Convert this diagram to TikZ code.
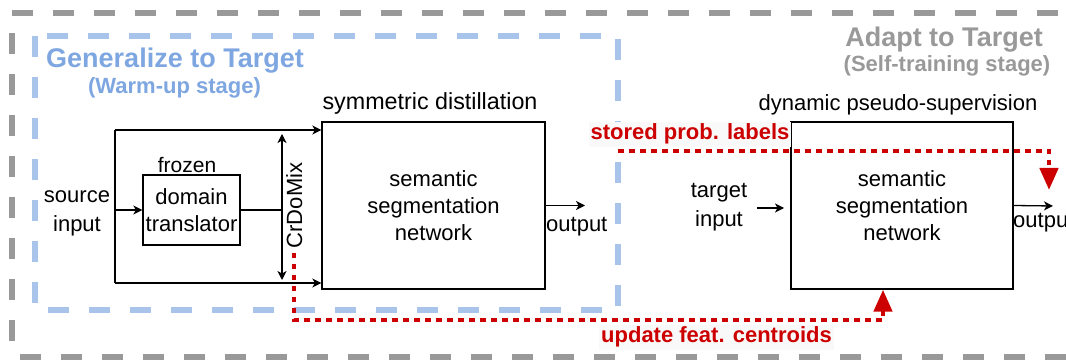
\documentclass[tikz,border=0pt]{standalone}
\usepackage{fontspec}
\setmainfont{Liberation Sans}
\usetikzlibrary{arrows.meta}
\definecolor{WarmClr}{rgb}{0.663,0.769,0.922}
\definecolor{WarmTxt}{rgb}{0.494,0.651,0.878}
\definecolor{SelfClr}{rgb}{0.6,0.6,0.6}
\definecolor{LinkClr}{rgb}{0.8,0,0}
\definecolor{TagClr}{rgb}{0.975,0.975,0.975}

\begin{document}
\begin{tikzpicture}[x=1pt,y=-1pt,
  lbl/.style={font=\fontsize{22}{27}\selectfont,align=center},
  txt/.style={lbl,inner sep=0pt,anchor=base},
  head/.style={font=\fontsize{27}{32}\selectfont\bfseries,inner sep=0pt,anchor=base},
  sub/.style={font=\fontsize{22}{26}\selectfont\bfseries,inner sep=0pt,anchor=base},
  box/.style={draw,line width=1.3pt,inner sep=0pt},
  wire/.style={line width=1.3pt},
  arr/.style={wire,-{Stealth[length=9pt,width=9pt,inset=2.5pt]}},
  arr2/.style={wire,{Stealth[length=9pt,width=9pt,inset=2.5pt]}-{Stealth[length=9pt,width=9pt,inset=2.5pt]}},
  frame/.style={line width=6pt,dash pattern=on 21pt off 20pt},
  link/.style={LinkClr,line width=4.5pt,dash pattern=on 5.5pt off 5.5pt},
  tip/.style={-{Triangle[length=22pt,width=18pt]}},
  tag/.style={font=\fontsize{22}{26}\selectfont\bfseries,text=LinkClr,fill=TagClr,inner sep=2pt,anchor=base}
]
\clip (0,0) rectangle (1066,363);

% stage frames
\draw[frame,SelfClr] (12,13) -- (1066,13);
\draw[frame,SelfClr] (12,33) -- (12,358);
\draw[frame,SelfClr] (20,357) -- (1066,357);
\draw[frame,WarmClr] (35,36) rectangle (618,310);

\node[head,text=WarmTxt] (warm) at (175,68) {Generalize to Target};
\node[sub,text=WarmTxt] (warmsub) at (174.5,94) {(Warm-up stage)};
\node[head,text=SelfClr] (self) at (944,47) {Adapt to Target};
\node[sub,text=SelfClr] (selfsub) at (947,72) {(Self-training stage)};

% warm-up branch
\node[txt,font=\fontsize{22}{29}\selectfont] (src) at (77,232) {source\\input};
\node[box,lbl,minimum width=97pt,minimum height=70pt] (ddt) at (191.5,210) {domain\\translator};
\node[txt,font=\fontsize{21}{26}\selectfont] (frozen) at (187,173) {frozen};
\node[box,lbl,minimum width=223pt,minimum height=167pt] (seg1) at (433.5,205.5) {semantic\\segmentation\\network};
\node[txt,font=\fontsize{23.3}{28}\selectfont] (symdist) at (430,110) {symmetric distillation};
\node[txt,anchor=base west] (out1) at (546,232) {output};

\coordinate (fork) at (115,210);
\coordinate (ftop) at (115,130);
\coordinate (fbot) at (115,283);
\coordinate (mix) at (282,210);
\coordinate (mixtop) at (282,134);
\coordinate (mixbot) at (282,280);
\coordinate (o1) at (585,205.5);

\draw[wire] (ftop) -- (fbot);
\draw[arr] (fork) -- (ddt.west);
\draw[arr] (ftop) -- (ftop -| seg1.west);
\draw[arr] (fbot) -- (fbot -| seg1.west);
\draw[wire] (ddt.east) -- (mix);
\draw[arr2] (mixtop) -- (mixbot);
\node[lbl,inner sep=0pt,rotate=90,anchor=base] (crdomix) at (302,205.5) {CrDoMix};
\draw[arr] (seg1.east) -- (o1);

% self-training branch
\node[txt,font=\fontsize{22}{29}\selectfont] (tgt) at (719,227) {target\\input};
\node[box,lbl,minimum width=222pt,minimum height=167pt] (seg2) at (902,205.5) {semantic\\segmentation\\network};
\node[txt] (dps) at (898,111) {dynamic pseudo-supervision};
\node[txt,anchor=base west] (out2) at (1013,228) {output};

\coordinate (tin) at (757,208);
\coordinate (tout) at (784,208);
\coordinate (o2) at (1053,206);
\draw[arr] (tin) -- (tout);
\draw[arr] (seg2.east) -- (o2);

% feedback between the stages
\coordinate (st0) at (618,151);
\coordinate (st1) at (1049,151);
\coordinate (st2) at (1049,190);
\coordinate (up0) at (294,253);
\coordinate (up1) at (883,320);

\draw[link,tip] (st0) -- (st1) -- (st2);
\draw[link,tip] (up0) |- (up1) -- (up1 |- seg2.south);

\node[tag] (stored) at (690,140) {stored prob. labels};
\node[tag] (update) at (716.5,343) {update feat. centroids};
\end{tikzpicture}
\end{document}
